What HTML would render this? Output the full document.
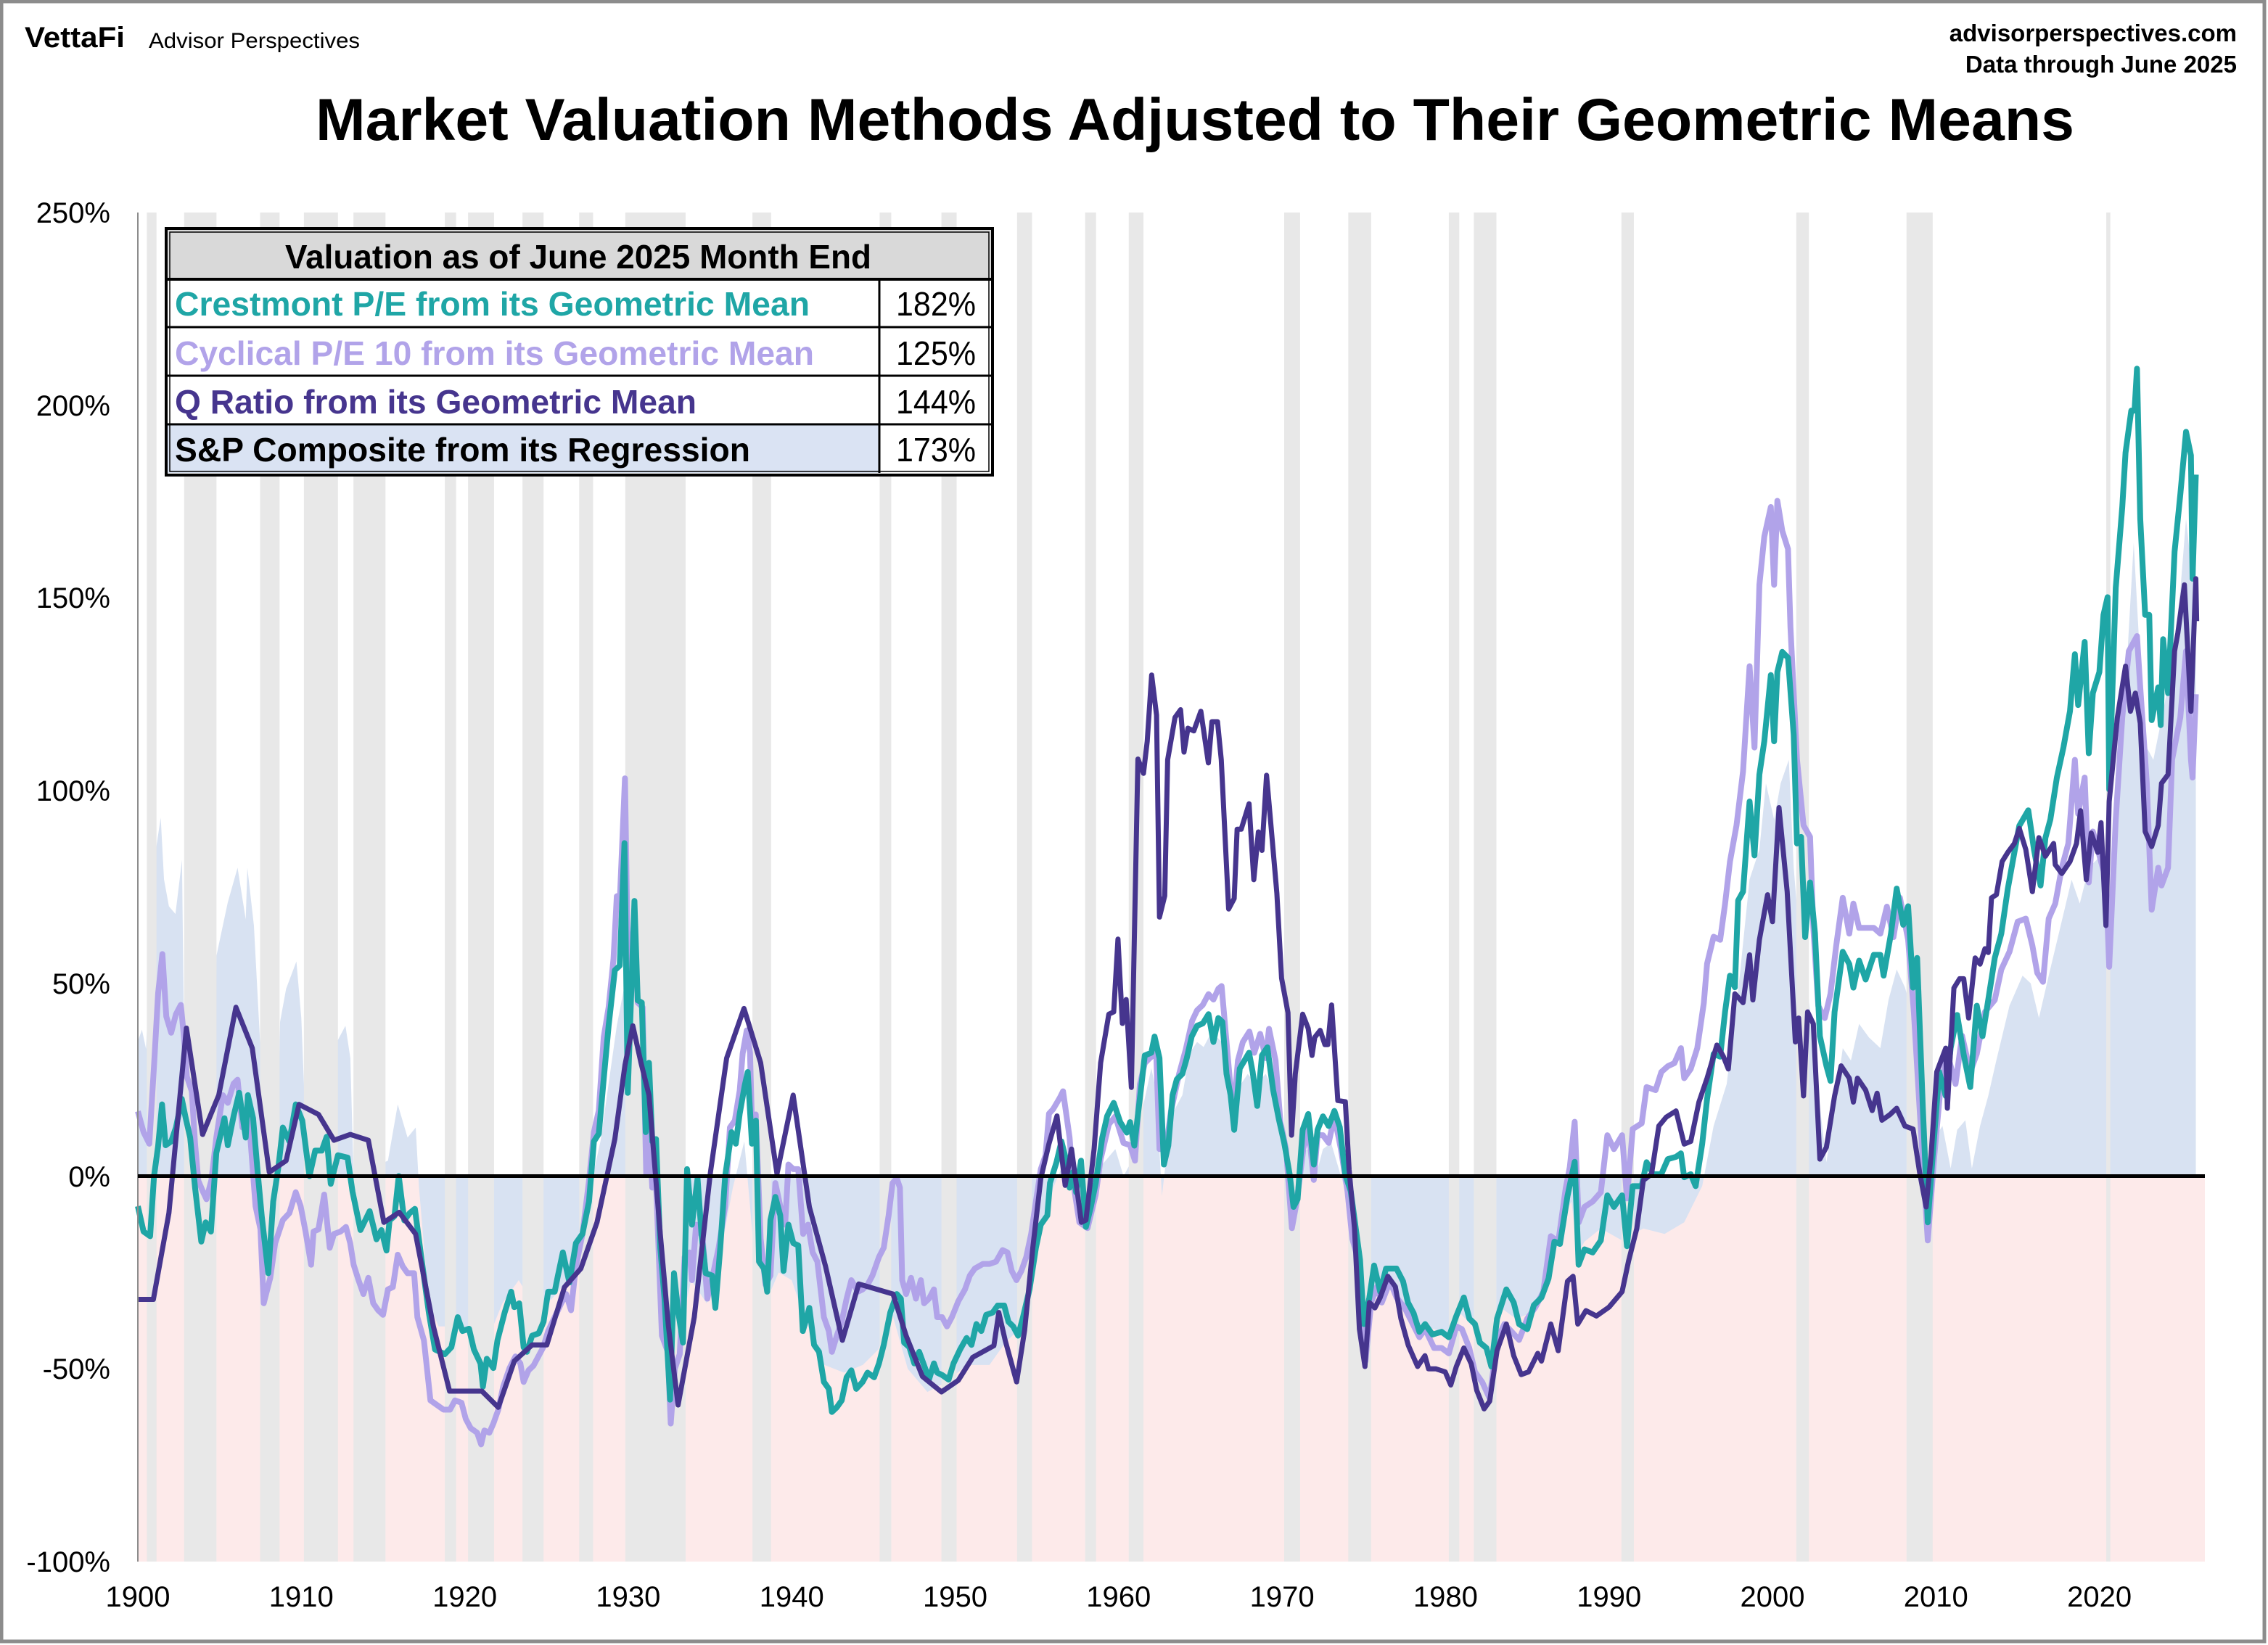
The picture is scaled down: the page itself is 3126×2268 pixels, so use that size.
<!DOCTYPE html>
<html><head><meta charset="utf-8"><style>
html,body{margin:0;padding:0;background:#fff;}
svg{display:block;font-family:"Liberation Sans",Arial,sans-serif;}
</style></head><body>
<svg width="3126" height="2268" viewBox="0 0 3126 2268" xmlns="http://www.w3.org/2000/svg">
<rect x="0" y="0" width="3126" height="2268" fill="#fff"/>
<rect x="2" y="2" width="3119" height="2261" fill="none" stroke="#8c8c8c" stroke-width="5"/>

<!-- header -->
<text x="34" y="65" font-size="40" font-weight="bold" textLength="138" lengthAdjust="spacingAndGlyphs">VettaFi</text>
<text x="205" y="66" font-size="30" textLength="291" lengthAdjust="spacingAndGlyphs">Advisor Perspectives</text>
<text x="3083" y="57" font-size="33" font-weight="bold" text-anchor="end">advisorperspectives.com</text>
<text x="3083" y="100" font-size="33" font-weight="bold" text-anchor="end">Data through June 2025</text>
<text x="435" y="193" font-size="82" font-weight="bold" textLength="2424" lengthAdjust="spacingAndGlyphs">Market Valuation Methods Adjusted to Their Geometric Means</text>

<!-- plot -->
<rect x="190" y="1621.5" width="2849" height="531.5" fill="#fdeaea"/>
<g transform="matrix(22.53,0,0,-5.314,-42617,1621.5)">
<polygon fill="#d8e2f2" points="1900,35 1900.25,38 1900.5,33 1901.1,84.6 1901.4,93 1901.6,77 1901.9,70 1902.3,68 1902.7,82 1902.8,45 1902.9,0 1904.75,0 1904.8,57 1905.5,71 1906.1,80 1906.6,66.6 1906.7,80 1907.1,65 1907.5,33 1907.8,0 1908.5,0 1908.7,40 1909.07,48.6 1909.7,55.7 1910,41 1910.3,9 1910.6,0 1912,0 1912.2,35 1912.7,39 1913,30.6 1913.2,0 1915.3,4 1915.9,18.6 1916.5,10 1917,12.6 1917.2,-3 1917.8,-33 1918.4,-39 1919.4,-39 1921.35,-43 1922.3,-33 1923.3,-27 1924.3,-34 1925.3,-32 1926.3,-27 1927.3,-10 1928.3,9 1929.3,39 1929.8,50 1930.5,45 1931.3,9 1932.3,-39 1932.9,-45 1933.85,-27 1934.8,-33 1935.6,-21 1936.4,-3 1937.1,9 1937.6,-15 1938.4,-33 1939.2,-25 1940,-27 1940.8,-37 1942,-49 1943.2,-51 1944.35,-49 1945.3,-45 1946.1,-35 1947.1,-50 1948.3,-56 1949.5,-53.4 1950.7,-49 1952.1,-49 1953.1,-43 1953.85,-40 1954.65,-27 1955.4,-13 1956,-3 1956.6,3 1957.4,-4 1958,-15 1959,3 1959.8,7 1960.3,0 1961.2,7 1961.5,18.2 1962,28 1962.3,22 1962.65,-5.2 1963.2,15.5 1963.9,21 1964.35,32 1964.8,34.8 1965.2,33.5 1965.7,37.5 1966.3,34.8 1966.7,23.8 1967.1,12.7 1967.5,24 1967.9,26.5 1968.4,23.8 1969,26.5 1969.6,21 1970,7 1970.47,-8 1971.15,6 1971.6,7 1972,-1 1972.5,7 1973,8.6 1973.6,0 1974.1,-7 1974.66,-20.4 1975.1,-32.8 1975.7,-30 1976.36,-27.3 1977.3,-34.2 1978.2,-38.4 1979.3,-39.7 1980.2,-41.1 1980.9,-35.6 1981.8,-39.7 1982.7,-45.3 1983.4,-34.2 1984.3,-37 1985.2,-35.6 1986.1,-27.3 1987,-12 1987.7,-6.6 1988.1,-20 1988.5,-17 1989.5,-13.6 1990.8,-16.7 1992.1,-13.6 1993.4,-15 1994.6,-12 1995.7,-2.6 1996.4,13 1997.2,23.9 1998,52 1998.6,77 1999.2,84.7 1999.6,101.9 2000.1,92.5 2000.5,101.9 2001,108 2001.3,80 2001.6,64.4 2002.15,48.8 2002.7,25.4 2003.3,3.6 2003.8,17.6 2004.3,33.2 2004.8,30 2005.3,39.5 2005.9,36 2006.6,33.2 2007.1,45.7 2007.6,53.6 2008.1,49 2008.65,41 2009.2,13 2009.5,-2.6 2009.9,9.8 2010.4,13 2010.9,2 2011.3,12 2011.8,14.5 2012.2,2 2012.7,13 2013.2,20.8 2013.7,30.1 2014.5,44.2 2015.3,52 2015.8,50 2016.3,41 2016.9,52 2017.6,64.4 2018.3,76.9 2018.8,70.7 2019.35,80 2020.1,83.2 2020.6,55 2021,98.8 2021.6,126.8 2022.1,164.3 2022.5,133 2022.9,111.2 2023.3,108 2023.9,120.6 2024.45,133 2024.95,151.8 2025.3,170.5 2025.7,155 2025.9,161 2025.9,0 1900,0"/>
<g fill="#e8e8e8">
<rect x="1900.55" y="-100" width="0.59" height="350"/>
<rect x="1902.83" y="-100" width="1.98" height="350"/>
<rect x="1907.48" y="-100" width="1.19" height="350"/>
<rect x="1910.16" y="-100" width="2.08" height="350"/>
<rect x="1913.19" y="-100" width="1.96" height="350"/>
<rect x="1918.78" y="-100" width="0.69" height="350"/>
<rect x="1920.2" y="-100" width="1.59" height="350"/>
<rect x="1923.53" y="-100" width="1.29" height="350"/>
<rect x="1927" y="-100" width="0.85" height="350"/>
<rect x="1929.82" y="-100" width="3.69" height="350"/>
<rect x="1937.6" y="-100" width="1.14" height="350"/>
<rect x="1945.38" y="-100" width="0.71" height="350"/>
<rect x="1949.16" y="-100" width="0.93" height="350"/>
<rect x="1953.79" y="-100" width="0.91" height="350"/>
<rect x="1957.95" y="-100" width="0.67" height="350"/>
<rect x="1960.62" y="-100" width="0.9" height="350"/>
<rect x="1970.13" y="-100" width="0.97" height="350"/>
<rect x="1974.05" y="-100" width="1.4" height="350"/>
<rect x="1980.2" y="-100" width="0.64" height="350"/>
<rect x="1981.73" y="-100" width="1.38" height="350"/>
<rect x="1990.76" y="-100" width="0.76" height="350"/>
<rect x="2001.46" y="-100" width="0.77" height="350"/>
<rect x="2008.2" y="-100" width="1.6" height="350"/>
<rect x="2020.42" y="-100" width="0.25" height="350"/>
</g>
<g fill="none" stroke-linejoin="round">
<polyline vector-effect="non-scaling-stroke" stroke="#b1a3e9" stroke-width="8" fill="none" points="1900,16.8 1900.35,11.4 1900.7,8.4 1901,29.4 1901.24,47.4 1901.5,57.6 1901.74,41.4 1902.04,37.2 1902.33,42 1902.63,44.4 1902.8,37 1903,25.8 1903.3,22 1903.5,8.4 1903.7,-1.2 1904,-4.2 1904.2,-6 1904.5,-1 1904.8,10 1905.2,21 1905.5,19 1905.86,24 1906.1,25 1906.4,12.6 1906.7,17 1906.9,9 1907.2,-7.8 1907.5,-13.8 1907.7,-33 1908.1,-26.4 1908.4,-17.4 1908.87,-11.4 1909.27,-9.6 1909.66,-4.2 1909.96,-7.8 1910.26,-14.4 1910.6,-23 1910.75,-14.4 1911.05,-13.8 1911.4,-4.8 1911.74,-18.6 1912,-15 1912.4,-14.4 1912.73,-13.2 1912.99,-17.4 1913.2,-23 1913.5,-27 1913.8,-30.6 1914.1,-26.4 1914.4,-33 1914.7,-34.8 1915,-36 1915.3,-29.4 1915.6,-28.8 1915.9,-20.4 1916.2,-23.4 1916.5,-25.2 1916.9,-25.2 1917.1,-36.6 1917.5,-42.6 1917.9,-58.2 1918.3,-59.4 1918.7,-60.6 1919.1,-60.6 1919.4,-58.2 1919.8,-58.8 1920.06,-63 1920.36,-65.4 1920.76,-66.6 1921,-69.6 1921.2,-66 1921.5,-66.6 1921.75,-64.2 1922.05,-60.6 1922.35,-54.6 1922.74,-49.8 1923.1,-46.8 1923.4,-48.6 1923.6,-53.4 1923.9,-50.4 1924.2,-49.2 1924.5,-46.8 1924.8,-44.4 1925.1,-40.2 1925.5,-36.6 1925.9,-33 1926.2,-30.6 1926.5,-34.8 1926.8,-23.4 1927.2,-15 1927.6,-1.2 1927.9,11.4 1928.2,17 1928.5,36 1928.8,43.8 1929.1,56.4 1929.3,72.6 1929.5,73 1929.8,103.2 1930,49.8 1930.38,66.6 1930.58,45 1930.88,43.8 1931.1,0.6 1931.27,13.8 1931.47,-3 1931.7,-1.8 1932.06,-41.4 1932.42,-45.6 1932.6,-64.2 1932.85,-50 1933.15,-46.2 1933.45,-21 1933.75,-19.8 1933.9,-27 1934.15,-12.6 1934.55,-16 1934.84,-31.8 1935.23,-24.6 1935.53,-18.6 1935.93,-7.8 1936.22,12.6 1936.52,14.4 1936.82,22.2 1937,31.8 1937.25,37.8 1937.45,32 1937.6,9 1937.8,16 1938.1,-16.2 1938.4,-28.2 1938.7,-25.8 1939,-1.8 1939.3,-7.8 1939.6,-12.6 1939.8,3 1940.1,1.8 1940.4,1.8 1940.7,-15 1941,-12.6 1941.28,-19.8 1941.57,-22.2 1941.97,-36.6 1942.27,-40.2 1942.46,-45.6 1942.76,-41.4 1943.06,-37.8 1943.36,-31.8 1943.65,-27 1944.05,-30 1944.34,-29.4 1944.64,-28.2 1944.94,-25.8 1945.34,-21 1945.63,-18.6 1945.93,-10.2 1946.17,-1.8 1946.43,-0.6 1946.62,-3 1946.76,-27 1947,-30.6 1947.3,-26.4 1947.6,-31.8 1947.9,-27 1948.1,-33 1948.4,-31.8 1948.7,-29.4 1948.9,-36.6 1949.2,-36.6 1949.5,-39 1949.8,-36.6 1950.2,-32.4 1950.6,-29.4 1950.9,-25.8 1951.2,-24 1951.7,-22.8 1952.1,-22.8 1952.5,-22.2 1952.9,-19.2 1953.2,-19.8 1953.46,-24.6 1953.75,-27 1954.05,-24.6 1954.35,-21 1954.65,-15 1954.94,-6.6 1955.24,1.8 1955.53,5.4 1955.74,16.2 1956,17.4 1956.4,20.3 1956.6,22 1957,10 1957.2,-1 1957.6,-12 1958.1,-13.5 1958.6,-4.8 1958.9,4.4 1959.4,13.4 1959.8,15.5 1960.3,8.6 1960.7,8 1961,4 1961.3,23.8 1961.6,29.3 1961.9,30.6 1962.3,32 1962.5,7 1962.9,7 1963.2,16.8 1963.7,26.5 1964.1,32.7 1964.5,40.3 1964.8,43 1965.15,44.4 1965.5,47.2 1965.8,45.8 1966.1,48.6 1966.3,49.3 1966.6,34.8 1967,15.5 1967.3,30 1967.6,34.8 1968,37.5 1968.3,32 1968.66,36.9 1969,30.6 1969.2,38.2 1969.6,30 1969.9,14 1970.24,7 1970.6,-13.5 1970.9,-6.6 1971.3,7 1971.6,12.7 1971.94,-1 1972.17,10.6 1972.5,10.6 1972.85,8.6 1973.2,15.5 1973.6,7 1974,-3.9 1974.3,-16.3 1974.66,-21.8 1975.1,-48 1975.45,-32.8 1975.8,-28.7 1976.1,-32.8 1976.6,-27.3 1977,-31.5 1977.5,-34.2 1978,-38.4 1978.4,-41.8 1978.75,-39.7 1979.3,-44.6 1979.76,-44.6 1980.2,-46 1980.66,-39 1981,-39.7 1981.45,-44.6 1981.8,-50.8 1982.25,-53.5 1982.7,-57.7 1983.15,-42.5 1983.6,-38.4 1984.05,-40.4 1984.5,-42.5 1985,-37 1985.5,-34 1985.98,-30 1986.44,-15.6 1986.9,-17 1987.35,-3.2 1987.6,2.3 1987.9,14.1 1988.15,-12 1988.5,-8 1989,-6.6 1989.5,-4.2 1989.9,10.6 1990.3,7 1990.8,10.6 1991.1,-5.8 1991.45,12.2 1992,13.7 1992.3,23.1 1992.85,22.3 1993.2,27 1993.6,28.5 1994,29.3 1994.4,33.2 1994.6,25.4 1995,27.8 1995.4,33.2 1995.8,44.9 1996,55.1 1996.4,62.1 1996.8,61.3 1997.1,70.6 1997.4,81.6 1997.8,91 1998.2,105 1998.6,132.3 1998.9,111.2 1999.2,153.4 1999.5,165.9 1999.9,173.6 2000.1,153.4 2000.3,175.2 2000.6,167.4 2000.95,162.7 2001.1,142.4 2001.5,108.1 2001.9,91 2002.3,88 2002.5,64.4 2002.8,44.2 2003.2,41 2003.55,47.3 2003.9,59.8 2004.3,72.2 2004.7,62.9 2004.95,70.7 2005.3,64.4 2005.7,64.4 2006.2,64.4 2006.6,62.9 2007,69.9 2007.4,62 2007.8,72.2 2008.3,61.3 2008.65,42.6 2009,17.6 2009.5,-16.7 2009.9,5.2 2010.3,23.9 2010.7,31.7 2011.2,23.9 2011.6,36.4 2012.1,27 2012.5,31.7 2013,42.6 2013.6,45.7 2014,53.6 2014.5,58.2 2015,66 2015.5,66.8 2015.9,59.8 2016.2,52.7 2016.55,50.4 2016.9,66.8 2017.3,70.7 2017.7,80 2018.1,86.3 2018.5,108 2018.7,94 2019.1,103.4 2019.35,76.2 2019.6,89.4 2020,83.2 2020.4,76.9 2020.6,54.3 2021,92.5 2021.4,119 2021.8,136.2 2022.3,140.1 2022.5,126.8 2022.9,101.9 2023.2,69.1 2023.6,80 2023.8,75.4 2024.2,80 2024.45,108.1 2024.95,119 2025.3,136.2 2025.6,108.1 2025.7,103.4 2025.9,125"/>
<polyline vector-effect="non-scaling-stroke" stroke="#1fa6a6" stroke-width="8" fill="none" points="1900,-7.8 1900.35,-14.4 1900.75,-15.6 1900.99,0 1901.24,7.8 1901.48,18.6 1901.7,8 1902.04,9 1902.33,12.6 1902.69,20 1902.93,15 1903.2,10 1903.5,-3 1903.88,-17 1904.15,-12 1904.47,-14.4 1904.8,6 1905.3,15 1905.5,8 1905.86,15.6 1906.2,21.6 1906.6,10 1906.73,21 1907.05,15 1907.33,1 1907.58,-10.4 1907.98,-25.2 1908.28,-6.6 1908.6,2.4 1908.87,12.6 1909.27,9 1909.66,18.6 1910.06,14.4 1910.5,0 1910.85,6.6 1911.25,6.6 1911.55,10.2 1911.8,-2 1912.24,5.4 1912.83,4.8 1913.13,-4 1913.62,-14 1914.18,-9.1 1914.6,-16.4 1914.9,-14 1915.21,-19.3 1915.4,-11.5 1915.7,-10.4 1915.96,0 1916.3,-11.5 1916.63,-9.6 1916.95,-8.5 1917.3,-19.8 1917.8,-35.4 1918.18,-45 1918.78,-46.2 1919.18,-44.4 1919.57,-36.6 1919.86,-40.2 1920.26,-39.6 1920.56,-45 1920.96,-48.6 1921.11,-54.6 1921.35,-47.4 1921.75,-49.8 1922,-42.6 1922.44,-35.4 1922.84,-30 1923.03,-34 1923.33,-33 1923.6,-44.4 1923.8,-45.6 1924.12,-41.4 1924.52,-40.8 1924.82,-37.8 1925.1,-30 1925.5,-30 1925.7,-25.8 1926,-19.8 1926.4,-27.6 1926.8,-17.4 1927.2,-15 1927.6,-6.6 1927.9,9 1928.2,11 1928.5,25.2 1928.8,39 1929.18,53.4 1929.48,54.6 1929.77,86.4 1929.97,21.6 1930.38,71.4 1930.58,45.6 1930.83,45 1931.07,11.4 1931.27,29.4 1931.47,9 1931.7,9.6 1931.96,-18.6 1932.22,-31.8 1932.56,-58 1932.8,-25.2 1933.05,-35 1933.35,-43.2 1933.6,1.8 1933.9,-12.6 1934.24,-0.6 1934.48,-15 1934.74,-25.2 1935.13,-25.8 1935.33,-34.2 1935.63,-18.6 1935.93,0 1936.32,11.4 1936.58,8.4 1936.82,16.2 1937.12,23.4 1937.31,27 1937.57,8.4 1937.81,14.4 1938,-22.2 1938.3,-24 1938.5,-30 1938.7,-11.4 1939,-5.4 1939.3,-10.2 1939.5,-24.6 1939.8,-12.6 1940.1,-17.4 1940.4,-18 1940.68,-40.2 1941.08,-34.2 1941.37,-43.8 1941.67,-45.6 1941.97,-53.4 1942.27,-55.2 1942.46,-61.2 1942.76,-60 1943.06,-58.2 1943.36,-52.2 1943.65,-50.4 1943.95,-55.2 1944.34,-53.4 1944.64,-51 1945.04,-52.2 1945.34,-48.6 1945.63,-43.8 1946.03,-35.4 1946.43,-30.6 1946.68,-31.8 1946.88,-43.2 1947.2,-44.4 1947.5,-48.6 1947.8,-45.6 1948.21,-50.4 1948.4,-52.8 1948.7,-48.6 1948.9,-51 1949.2,-51.6 1949.6,-52.8 1949.9,-48.6 1950.3,-45 1950.7,-42 1951,-43.8 1951.3,-38.4 1951.6,-40.2 1951.9,-36 1952.3,-35.4 1952.6,-33.6 1953,-33.6 1953.26,-37.8 1953.55,-39 1953.85,-41.4 1954.15,-36.6 1954.55,-29.4 1954.94,-18.6 1955.24,-12.6 1955.64,-10.2 1955.8,-1.8 1956.2,3.6 1956.5,9 1956.8,4 1957,-3 1957.2,1 1957.4,-4.2 1957.7,4 1958,-13.2 1958.3,-8 1958.6,-1.8 1959,10 1959.3,15.6 1959.7,19 1960.1,14 1960.5,11.3 1960.7,14 1960.96,7.9 1961.4,23.8 1961.6,31.3 1962,32 1962.2,36.2 1962.5,30.6 1962.77,3 1963.04,7.9 1963.3,21 1963.56,25.1 1963.9,26.5 1964.17,30.6 1964.47,36.2 1964.8,39 1965.15,39.6 1965.5,42 1965.8,34.8 1966.1,41 1966.35,40 1966.6,26.5 1966.85,21 1967.07,12 1967.41,27.9 1967.98,32 1968.2,27 1968.48,18.2 1968.77,31.3 1969.1,33.4 1969.45,22.4 1969.8,14.8 1970.13,8.6 1970.47,0.3 1970.7,-8 1970.95,-6 1971.26,12 1971.6,16.1 1971.94,3 1972.17,12 1972.5,15.5 1972.85,13 1973.2,16.9 1973.53,12.7 1973.87,0.3 1974.2,-3.9 1974.55,-14.9 1974.77,-21.8 1975,-38.4 1975.34,-31.5 1975.63,-23.2 1976,-30 1976.36,-24 1977,-24 1977.4,-27.3 1977.7,-32.8 1978.05,-35.6 1978.4,-40.4 1978.75,-38.4 1979.2,-41.1 1979.76,-40.4 1980.2,-41.8 1980.66,-36.3 1981.12,-31.5 1981.46,-37 1981.8,-38.4 1982.1,-43.2 1982.5,-44.6 1982.8,-49.4 1983.15,-37 1983.72,-29.4 1984.17,-32.8 1984.5,-38.4 1985,-39.7 1985.4,-33.5 1985.87,-31.5 1986.3,-26.6 1986.66,-17 1987,-17.6 1987.46,-5.2 1987.9,3.7 1988.14,-23 1988.5,-19 1989,-19.8 1989.5,-16.7 1989.9,-5 1990.3,-8 1990.8,-5 1991.1,-18.2 1991.45,-2.6 1992,-2.6 1992.3,3.6 1992.7,0.5 1993.2,0.5 1993.6,4.4 1994.1,5 1994.4,5.9 1994.6,-0.3 1995,0.5 1995.3,-2.6 1995.7,8.3 1996,20 1996.4,31.7 1996.8,31 1997.1,42.6 1997.4,52 1997.7,49 1997.9,71.5 1998.2,73.8 1998.6,97.2 1998.9,83.2 1999.2,104.2 1999.5,112.8 1999.9,130 2000.1,112.8 2000.3,130.8 2000.6,136 2000.95,134.5 2001.3,114.4 2001.5,86.3 2001.75,88 2002,62 2002.3,76.2 2002.6,63 2002.9,36.3 2003.3,28.6 2003.55,24.7 2003.8,42.6 2004.3,58.2 2004.7,55 2004.95,48.9 2005.3,55.9 2005.7,51 2006.2,57.4 2006.6,57.4 2006.8,52 2007.25,62.9 2007.6,74.6 2008,65.2 2008.3,70 2008.6,48.9 2008.85,56.6 2009.2,17.6 2009.5,-12 2009.8,5.2 2010.2,27 2010.6,20.8 2010.9,33.2 2011.3,41.8 2011.7,31.5 2012.1,23.1 2012.5,44.2 2012.85,36.3 2013.2,45.7 2013.6,56.6 2014,62.9 2014.4,74.6 2014.8,84 2015.1,90.9 2015.65,94.9 2016,84.7 2016.4,75.4 2016.7,87.8 2017,92.5 2017.4,103.4 2017.8,111.2 2018.2,120.6 2018.5,135.4 2018.7,122.2 2019.1,138.6 2019.35,109.7 2019.6,125.3 2020,130.8 2020.25,145.6 2020.5,150.2 2020.6,100.3 2021,152.6 2021.4,173.6 2021.6,187.7 2021.95,198.6 2022.15,198.6 2022.3,209.5 2022.5,170.5 2022.8,145.6 2023.05,145.6 2023.2,118.3 2023.6,126.8 2023.75,117 2023.9,139.3 2024.2,125.3 2024.6,162 2024.95,176.8 2025.3,193.1 2025.6,187 2025.7,155 2025.9,182"/>
<polyline vector-effect="non-scaling-stroke" stroke="#46358e" stroke-width="7" fill="none" points="1900,-32 1900.95,-32 1901.9,-9.6 1902.97,38.4 1903.96,10.8 1904.95,21 1906,43.8 1907,33.2 1908.04,1 1909.07,4 1909.86,18.6 1911.05,16 1912,9.3 1913,10.8 1914.1,9.3 1915.05,-12 1915.99,-9.4 1916.99,-15 1918.08,-39 1919.07,-55.8 1921.05,-55.8 1922.05,-60 1923.03,-48 1924.12,-43.8 1925.02,-43.8 1926.1,-28.8 1927.1,-24 1928.09,-12 1929.18,9.6 1929.8,28.8 1930.28,39 1930.78,29.4 1931.27,21 1931.96,-15 1932.46,-39 1933.05,-59.4 1934.04,-36.6 1935.03,1 1936.02,30.6 1937.08,43.5 1938.1,29.4 1939.1,0.6 1940.09,21 1941.08,-8 1942.07,-23.4 1943.1,-42.6 1944.1,-28 1946.2,-30.6 1947,-41.4 1948,-52 1949.16,-56 1950.19,-53 1951.08,-47 1952.37,-44 1952.67,-35.4 1953.06,-42.6 1953.76,-53.4 1954.25,-40 1954.75,-18.6 1955.24,-0.6 1955.74,8.4 1956.23,15.6 1956.73,-2.4 1957.12,7 1957.72,-12 1958,-11.4 1958.5,7 1958.9,29.4 1959.4,42 1959.7,42.6 1959.96,61.5 1960.23,39.6 1960.46,45.8 1960.78,23 1961.18,108.2 1961.52,104.5 1961.75,112.8 1962.02,130 1962.32,119.6 1962.5,67.2 1962.82,72.7 1963,108 1963.45,119 1963.79,121 1964,110 1964.24,116.2 1964.6,115.5 1965.03,120.6 1965.49,107.2 1965.71,117.9 1966.05,117.9 1966.28,108 1966.73,69.3 1967.07,72 1967.25,90 1967.5,90 1967.98,96.6 1968.27,76.9 1968.55,89.3 1968.77,84.5 1969.05,104 1969.34,90 1969.68,73.4 1969.97,51.3 1970.36,42.4 1970.58,10.6 1970.81,26.5 1971.26,42 1971.6,38.3 1971.83,31.3 1972,36 1972.33,37.8 1972.62,34.1 1972.8,34.1 1973.03,44.4 1973.41,19.6 1973.87,19.3 1974.1,1.7 1974.43,-13.5 1974.73,-39.7 1975.07,-49.4 1975.34,-32.8 1975.68,-34.2 1976,-31.5 1976.47,-26 1976.93,-28.7 1977.27,-37 1977.72,-43.9 1978.29,-49.4 1978.74,-46.6 1978.96,-50 1979.4,-50 1979.98,-50.8 1980.32,-54.2 1980.66,-49.4 1981.12,-44.6 1981.57,-48.7 1981.91,-55.6 1982.36,-60.4 1982.7,-58.4 1983.15,-45.3 1983.72,-38.4 1984.17,-46.6 1984.63,-51.5 1985.08,-50.8 1985.64,-46 1985.87,-48 1986.44,-38.4 1986.89,-45.3 1987.46,-27.3 1987.8,-26 1988.09,-38.4 1988.59,-34.9 1989.23,-36.3 1990,-34 1990.8,-30 1991.2,-22 1991.7,-13.6 1992.1,-1.1 1992.6,0.5 1993.05,13 1993.5,15.3 1994.1,16.9 1994.6,8.3 1995,9 1995.5,19.2 1996,25.4 1996.6,34 1997,31 1997.3,27.8 1997.7,47.3 1998.2,45 1998.6,57.4 1998.8,45.7 1999.2,61.3 1999.7,73 2000,66 2000.4,95.6 2000.9,73.8 2001.4,34.8 2001.6,41 2001.9,20.8 2002.15,42.6 2002.5,39.5 2002.9,4.4 2003.3,7.5 2003.8,20.8 2004.2,28.6 2004.7,25.4 2004.95,19.2 2005.2,25.4 2005.7,22.3 2006.1,17 2006.4,21.5 2006.7,14.5 2007.2,16 2007.6,17.6 2008.1,13 2008.6,12.2 2009,1 2009.4,-8 2009.7,5.2 2010.05,27 2010.6,33.2 2010.7,17.6 2011.1,48.8 2011.45,51.2 2011.7,51.2 2012,41 2012.4,56.6 2012.7,55 2013,59 2013.2,58 2013.4,72.2 2013.7,73 2014.05,81.6 2014.4,84 2014.8,86.3 2015.1,90.2 2015.5,84.7 2015.9,73.8 2016.3,87.8 2016.7,83 2017.2,86.3 2017.3,80.8 2017.7,78.5 2018.2,81.6 2018.6,86.3 2018.85,94.8 2019.2,76.9 2019.5,89 2019.9,84 2020.1,91.7 2020.4,65 2020.6,97.2 2021.1,119 2021.6,132.3 2021.9,120.6 2022.2,125.3 2022.5,117.5 2022.8,89.4 2023.2,85.5 2023.6,91 2023.8,101.9 2024.2,104.2 2024.6,136.2 2024.8,140.9 2025.2,153.4 2025.6,120.6 2025.9,155 2025.95,144"/>
</g>
</g>
<line x1="190" y1="293" x2="190" y2="2153" stroke="#8c8c8c" stroke-width="2"/>
<line x1="190" y1="1621.5" x2="3039" y2="1621.5" stroke="#000" stroke-width="5"/>

<!-- y labels -->
<g font-size="40" text-anchor="end">
<text x="152" y="307">250%</text>
<text x="152" y="573">200%</text>
<text x="152" y="838">150%</text>
<text x="152" y="1104">100%</text>
<text x="152" y="1370">50%</text>
<text x="152" y="1636">0%</text>
<text x="152" y="1901">-50%</text>
<text x="152" y="2167">-100%</text>
</g>
<g font-size="40" text-anchor="middle">
<text x="190" y="2215">1900</text>
<text x="415.3" y="2215">1910</text>
<text x="640.6" y="2215">1920</text>
<text x="865.9" y="2215">1930</text>
<text x="1091.2" y="2215">1940</text>
<text x="1316.5" y="2215">1950</text>
<text x="1541.8" y="2215">1960</text>
<text x="1767.1" y="2215">1970</text>
<text x="1992.4" y="2215">1980</text>
<text x="2217.7" y="2215">1990</text>
<text x="2443" y="2215">2000</text>
<text x="2668.3" y="2215">2010</text>
<text x="2893.6" y="2215">2020</text>
</g>

<!-- table -->
<rect x="228" y="314" width="1141" height="342" fill="#fff"/>
<rect x="230" y="316" width="1137" height="69" fill="#d9d9d9"/>
<rect x="230" y="585" width="982" height="67" fill="#dae3f3"/>
<g stroke="#000" fill="none">
<rect x="229" y="315" width="1139" height="340" stroke-width="4"/>
<rect x="234" y="320" width="1129" height="330" stroke-width="1.5"/>
<line x1="230" y1="385" x2="1367" y2="385" stroke-width="4"/>
<line x1="230" y1="451" x2="1367" y2="451" stroke-width="3"/>
<line x1="230" y1="518" x2="1367" y2="518" stroke-width="3"/>
<line x1="230" y1="585" x2="1367" y2="585" stroke-width="3"/>
<line x1="1212" y1="385" x2="1212" y2="652" stroke-width="3"/>
</g>
<g font-size="46" font-weight="bold">
<text x="393" y="370" textLength="808" lengthAdjust="spacingAndGlyphs" fill="#000">Valuation as of June 2025 Month End</text>
<text x="241" y="435" textLength="875" lengthAdjust="spacingAndGlyphs" fill="#1fa6a6">Crestmont P/E from its Geometric Mean</text>
<text x="241" y="503" textLength="881" lengthAdjust="spacingAndGlyphs" fill="#b1a3e9">Cyclical P/E 10 from its Geometric Mean</text>
<text x="241" y="570" textLength="719" lengthAdjust="spacingAndGlyphs" fill="#46358e">Q Ratio from its Geometric Mean</text>
<text x="241" y="636" textLength="793" lengthAdjust="spacingAndGlyphs" fill="#000">S&amp;P Composite from its Regression</text>
</g>
<g font-size="46">
<text x="1235" y="435" textLength="110" lengthAdjust="spacingAndGlyphs">182%</text>
<text x="1235" y="503" textLength="110" lengthAdjust="spacingAndGlyphs">125%</text>
<text x="1235" y="570" textLength="110" lengthAdjust="spacingAndGlyphs">144%</text>
<text x="1235" y="636" textLength="110" lengthAdjust="spacingAndGlyphs">173%</text>
</g>
</svg>
</body></html>
